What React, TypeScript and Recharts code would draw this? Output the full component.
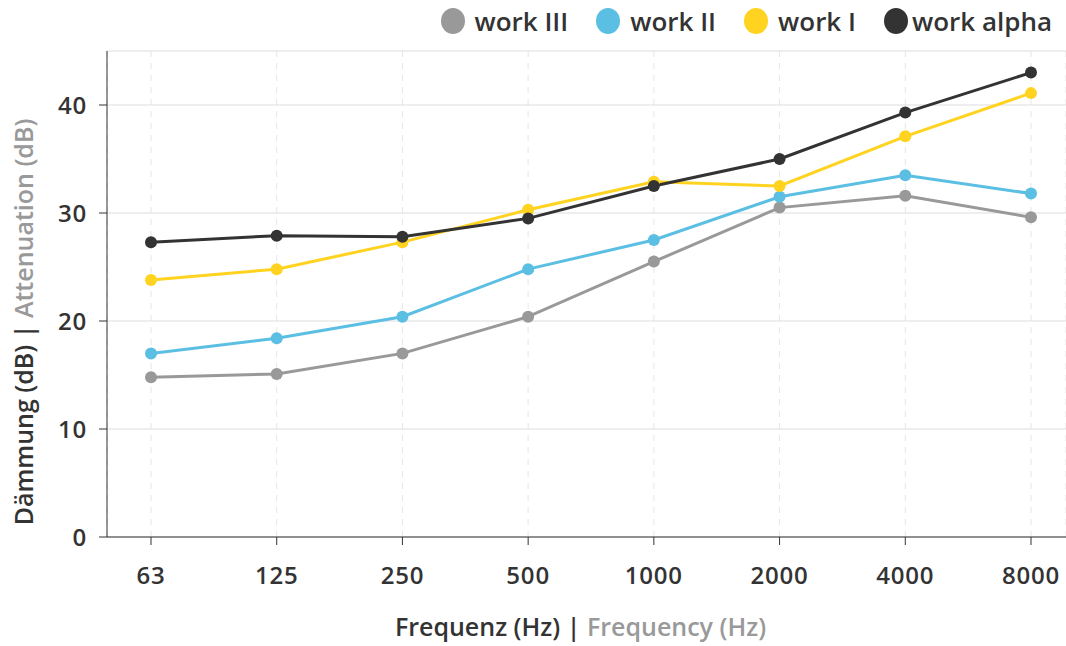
import React from 'react';
import { LineChart, Line, XAxis, YAxis, CartesianGrid, Label } from 'recharts';

const frequencies = ['63', '125', '250', '500', '1000', '2000', '4000', '8000'];
const workIII = [14.8, 15.1, 17.0, 20.4, 25.5, 30.5, 31.6, 29.6];
const workII = [17.0, 18.4, 20.4, 24.8, 27.5, 31.5, 33.5, 31.8];
const workI = [23.8, 24.8, 27.3, 30.3, 32.9, 32.5, 37.1, 41.1];
const workAlpha = [27.3, 27.9, 27.8, 29.5, 32.5, 35.0, 39.3, 43.0];
const yTicks = [0, 10, 20, 30, 40];

const SERIES = [
  { key: 'workIII', name: 'work III', color: '#999999' },
  { key: 'workII', name: 'work II', color: '#5bbfe3' },
  { key: 'workI', name: 'work I', color: '#ffd320' },
  { key: 'workAlpha', name: 'work alpha', color: '#333333' },
];

const data = frequencies.map((f, i) => ({
  freq: f,
  workIII: workIII[i],
  workII: workII[i],
  workI: workI[i],
  workAlpha: workAlpha[i],
}));

const FONT = '"Open Sans", "Noto Sans", sans-serif';
const TICK = { fontSize: 24, fontWeight: 600, fill: '#333', fontFamily: FONT, letterSpacing: 0.8 };

const YLabel = ({ viewBox }: any) => {
  const cy = viewBox.y + viewBox.height / 2 + 28;
  return (
    <text
      x={0}
      y={0}
      transform={`translate(33, ${cy}) rotate(-90)`}
      textAnchor="middle"
      fontSize={25}
      fontWeight={600}
      fontFamily={FONT}
    >
      <tspan fill="#333">Dämmung (dB) | </tspan>
      <tspan fill="#999">Attenuation (dB)</tspan>
    </text>
  );
};

const XLabel = ({ viewBox }: any) => {
  const cx = viewBox.x + viewBox.width / 2 - 6;
  return (
    <text x={cx} y={636} textAnchor="middle" fontSize={25} fontWeight={600} fontFamily={FONT}>
      <tspan fill="#333">Frequenz (Hz) | </tspan>
      <tspan fill="#999">Frequency (Hz)</tspan>
    </text>
  );
};

export default function App() {
  return (
    <div style={{ position: 'absolute', left: 0, top: 0, width: 1066, height: 646, fontFamily: FONT }}>
      {/* legend */}
      <div
        style={{
          position: 'absolute',
          top: 3,
          right: 14,
          display: 'flex',
          alignItems: 'center',
          gap: 28,
          fontSize: 26,
          fontWeight: 600,
          color: '#333',
          zIndex: 2,
        }}
      >
        {SERIES.map((s, i) => (
          <div key={s.key} style={{ display: 'flex', alignItems: 'center', gap: i === 3 ? 4 : 10 }}>
            <span
              style={{ width: 24, height: 26, borderRadius: '50%', background: s.color, display: 'inline-block' }}
            />
            <span>{s.name}</span>
          </div>
        ))}
      </div>
      <LineChart width={1066} height={646} data={data} margin={{ top: 51, right: 0, bottom: 49, left: 0 }}>
        <CartesianGrid horizontal={false} stroke="#e6e6e6" strokeDasharray="6 6" />
        <CartesianGrid vertical={false} stroke="#dddddd" />
        <XAxis
          dataKey="freq"
          padding={{ left: 44, right: 35 }}
          height={60}
          stroke="#333"
          tickSize={8}
          tickMargin={22}
          tick={TICK}
        >
          <Label content={<XLabel />} />
        </XAxis>
        <YAxis
          domain={[0, 45]}
          ticks={yTicks}
          width={107}
          stroke="#333"
          tickSize={8}
          tickMargin={12}
          tick={TICK}
        >
          <Label content={<YLabel />} />
        </YAxis>
        {SERIES.map((s) => (
          <Line
            key={s.key}
            dataKey={s.key}
            name={s.name}
            stroke={s.color}
            strokeWidth={3}
            dot={{ r: 6, fill: s.color, stroke: s.color, strokeWidth: 0 }}
            activeDot={false}
            isAnimationActive={false}
          />
        ))}
      </LineChart>
    </div>
  );
}
